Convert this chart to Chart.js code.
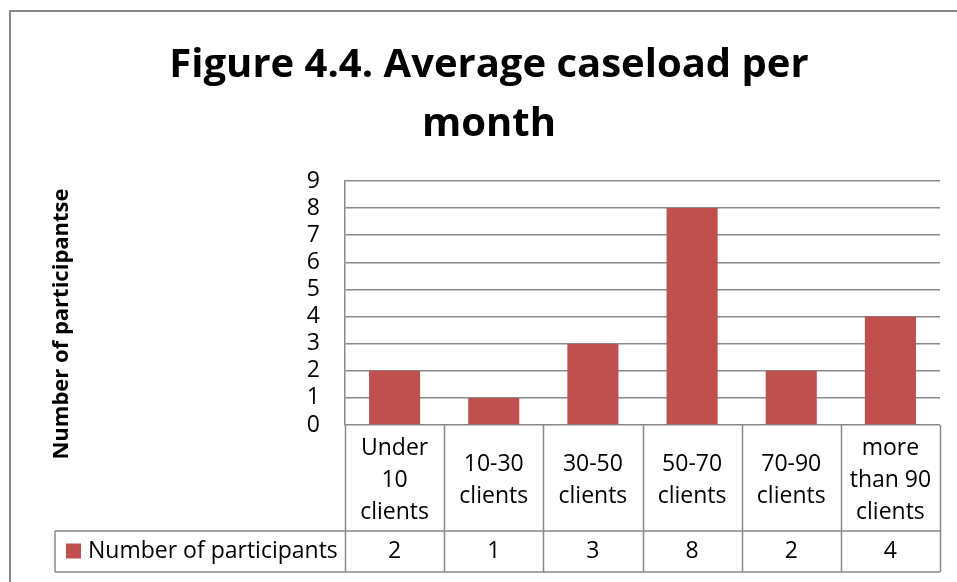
<!DOCTYPE html>
<html>
<head>
<meta charset="utf-8">
<script src="https://cdn.jsdelivr.net/npm/chart.js@4.4.0/dist/chart.umd.min.js"></script>
<style>
  html, body { margin: 0; padding: 0; background: #fff; }
  #wrap { width: 957px; height: 582px; }
</style>
</head>
<body>
<div id="wrap"><canvas id="caseloadChart" width="957" height="582"></canvas></div>
<script>
// chart data
const categories = [
    ['Under', '10', 'clients'],
    ['10-30', 'clients'],
    ['30-50', 'clients'],
    ['50-70', 'clients'],
    ['70-90', 'clients'],
    ['more', 'than 90', 'clients']
];
const participants = [2, 1, 3, 8, 2, 4];
const yTicks = [0, 1, 2, 3, 4, 5, 6, 7, 8, 9];

const seriesName = 'Number of participants';
const yTitle = 'Number of participantse';
const chartTitle = ['Figure 4.4. Average caseload per', 'month'];

const FONT = '"Open Sans", "DejaVu Sans", sans-serif';
const LINE = '#898989';
const BAR = '#C0504D';

// outer frame + white background
const framePlugin = {
    id: 'frame',
    beforeDraw(chart) {
        const ctx = chart.ctx;
        ctx.save();
        ctx.fillStyle = '#fff';
        ctx.fillRect(0, 0, chart.width, chart.height);
        ctx.strokeStyle = LINE;
        ctx.lineWidth = 2;
        ctx.beginPath();
        ctx.moveTo(10, chart.height);
        ctx.lineTo(10, 11);
        ctx.lineTo(chart.width, 11);
        ctx.stroke();
        ctx.restore();
    }
};

// y axis title, placed like the Excel one
const yTitlePlugin = {
    id: 'yTitle',
    afterDraw(chart) {
        const ctx = chart.ctx;
        ctx.save();
        ctx.translate(62, 324);
        ctx.rotate(-Math.PI / 2);
        ctx.font = 'bold 22px ' + FONT;
        ctx.fillStyle = '#000';
        ctx.textAlign = 'center';
        ctx.textBaseline = 'middle';
        ctx.fillText(yTitle, 0, 0);
        ctx.restore();
    }
};

// data table under the plot (category row + series row)
const dataTablePlugin = {
    id: 'dataTable',
    afterDraw(chart) {
        const ctx = chart.ctx;
        const x = chart.scales.x;
        const area = chart.chartArea;
        const top = area.bottom;
        const rowY = top + 106;
        const bottom = top + 147;
        const tableLeft = 55;
        const colW = (area.right - area.left) / categories.length;

        ctx.save();
        ctx.strokeStyle = LINE;
        ctx.lineWidth = 1.5;
        ctx.beginPath();
        for (let i = 0; i <= categories.length; i++) {
            const px = Math.round(area.left + i * colW) + 0.5;
            ctx.moveTo(px, top);
            ctx.lineTo(px, bottom);
        }
        ctx.moveTo(tableLeft, rowY);
        ctx.lineTo(area.right, rowY);
        ctx.moveTo(tableLeft, bottom);
        ctx.lineTo(area.right, bottom);
        ctx.moveTo(tableLeft, rowY);
        ctx.lineTo(tableLeft, bottom);
        ctx.stroke();

        const midY = (rowY + bottom) / 2;
        // legend key
        ctx.fillStyle = BAR;
        ctx.fillRect(66, midY - 8, 15, 15);
        ctx.fillStyle = '#000';
        ctx.font = '23px ' + FONT;
        ctx.textBaseline = 'middle';
        ctx.textAlign = 'left';
        ctx.fillText(seriesName, 88, midY);
        // values
        ctx.textAlign = 'center';
        participants.forEach((v, i) => {
            ctx.fillText(String(v), x.getPixelForValue(i), midY);
        });
        ctx.restore();
    }
};

const ctx = document.getElementById('caseloadChart').getContext('2d');
new Chart(ctx, {
    type: 'bar',
    data: {
        labels: categories,
        datasets: [{
            label: seriesName,
            data: participants,
            backgroundColor: BAR,
            borderWidth: 0,
            categoryPercentage: 1,
            barPercentage: 0.515
        }]
    },
    options: {
        responsive: false,
        animation: false,
        layout: {
            padding: { top: 0, left: 38, right: 17, bottom: 10 }
        },
        plugins: {
            legend: { display: false },
            tooltip: { enabled: false },
            title: {
                display: true,
                text: chartTitle,
                color: '#000',
                font: { family: FONT, size: 40, weight: 'bold', lineHeight: '59px' },
                padding: { top: 36, bottom: 27 }
            }
        },
        scales: {
            x: {
                grid: { display: false },
                border: { display: false },
                ticks: {
                    color: '#000',
                    font: { family: FONT, size: 23, lineHeight: '32px' },
                    maxRotation: 0,
                    minRotation: 0,
                    autoSkip: false,
                    crossAlign: 'center',
                    padding: 15
                },
                afterFit(scale) { scale.height = 147; }
            },
            y: {
                min: 0,
                max: 9,
                afterBuildTicks(scale) {
                    scale.ticks = yTicks.map(v => ({ value: v }));
                },
                grid: { color: LINE, lineWidth: 1.5, drawTicks: false },
                border: { display: true, color: LINE, width: 1.5 },
                ticks: {
                    color: '#000',
                    font: { family: FONT, size: 23, lineHeight: 1 },
                    autoSkip: false,
                    stepSize: 1,
                    padding: 25
                },
                afterFit(scale) { scale.width = 307; }
            }
        }
    },
    plugins: [framePlugin, yTitlePlugin, dataTablePlugin]
});
</script>
</body>
</html>
